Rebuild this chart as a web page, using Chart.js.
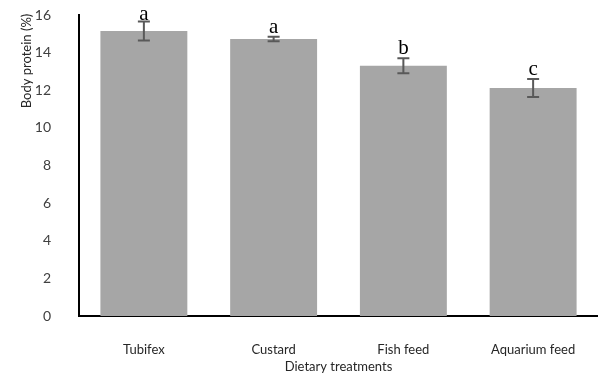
<!DOCTYPE html>
<html>
<head>
<meta charset="utf-8">
<script src="https://cdn.jsdelivr.net/npm/chart.js@4"></script>
<style>
  html, body { margin: 0; padding: 0; background: #fff; }
  #wrap { width: 598px; height: 375px; position: relative; }
</style>
</head>
<body>
<div id="wrap"><canvas id="proteinChart"></canvas></div>
<script>
const treatments = ['Tubifex', 'Custard', 'Fish feed', 'Aquarium feed'];
const proteinValues = [15.15, 14.72, 13.3, 12.12];
const errorValues = [0.5, 0.12, 0.4, 0.48];
const groupLetters = ['a', 'a', 'b', 'c'];
const yTicks = [0, 2, 4, 6, 8, 10, 12, 14, 16];

// error bars + significance letters
const errorBarPlugin = {
    id: 'errorBars',
    afterDatasetsDraw(chart) {
        const { ctx, scales: { x, y } } = chart;
        ctx.save();
        treatments.forEach((t, i) => {
            const cx = x.getPixelForValue(i);
            const top = y.getPixelForValue(proteinValues[i] + errorValues[i]);
            const bot = y.getPixelForValue(proteinValues[i] - errorValues[i]);
            ctx.strokeStyle = '#595959';
            ctx.lineWidth = 2;
            ctx.beginPath();
            ctx.moveTo(cx, top); ctx.lineTo(cx, bot);
            ctx.moveTo(cx - 6, top); ctx.lineTo(cx + 6, top);
            ctx.moveTo(cx - 6, bot); ctx.lineTo(cx + 6, bot);
            ctx.stroke();

            ctx.fillStyle = '#000';
            ctx.font = '21px "Liberation Serif", serif';
            ctx.textAlign = 'center';
            ctx.textBaseline = 'alphabetic';
            ctx.fillText(groupLetters[i], cx, Math.max(top - 4, 20));
        });
        // y axis title
        ctx.translate(27, 61);
        ctx.rotate(-Math.PI / 2);
        ctx.fillStyle = '#262626';
        ctx.font = '13px Lato, sans-serif';
        ctx.textAlign = 'center';
        ctx.textBaseline = 'middle';
        ctx.fillText('Body protein (%)', 0, 0);
        ctx.restore();
    }
};

new Chart(document.getElementById('proteinChart').getContext('2d'), {
    type: 'bar',
    data: {
        labels: treatments,
        datasets: [{
            data: proteinValues,
            backgroundColor: '#a6a6a6',
            borderWidth: 0,
            categoryPercentage: 1,
            barPercentage: 0.67
        }]
    },
    options: {
        responsive: true,
        maintainAspectRatio: false,
        animation: false,
        layout: { padding: 0 },
        plugins: {
            legend: { display: false },
            tooltip: { enabled: false }
        },
        scales: {
            x: {
                grid: { display: false },
                border: { display: true, color: '#000', width: 2 },
                ticks: { color: '#262626', font: { family: 'Lato', size: 13 }, padding: 18 },
                title: {
                    display: true,
                    text: 'Dietary treatments',
                    color: '#262626',
                    font: { family: 'Lato', size: 13 },
                    padding: { top: 2, bottom: 0 }
                },
                afterFit: (scale) => { scale.height = 59; }
            },
            y: {
                min: 0,
                max: 16,
                afterBuildTicks: (scale) => { scale.ticks = yTicks.map(v => ({ value: v })); },
                grid: { display: false },
                border: { display: true, color: '#000', width: 2 },
                ticks: { color: '#404040', font: { family: 'Lato', size: 14 }, padding: 20 },
                afterFit: (scale) => {
                    scale.width = 79;
                    scale.paddingTop = 15;
                    scale.paddingBottom = 0;
                }
            }
        }
    },
    plugins: [errorBarPlugin]
});
</script>
</body>
</html>
